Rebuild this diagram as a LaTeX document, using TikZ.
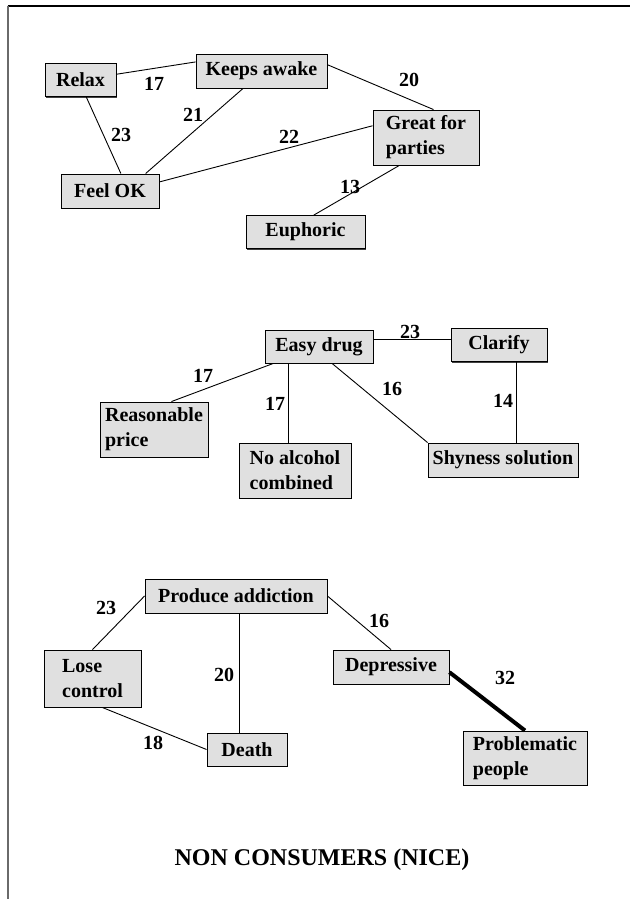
\documentclass[tikz,border=0pt]{standalone}
\usepackage{fontspec}
\setmainfont{Liberation Serif}
\usetikzlibrary{calc,shadows}
\definecolor{boxgray}{HTML}{E0E0E0}
\definecolor{framegray}{HTML}{6A6A6A}
\begin{document}
\begin{tikzpicture}[x=1pt,y=-1pt,
  box/.style={draw=black, line width=0.9pt, fill=boxgray, inner sep=0pt,
    font=\bfseries\fontsize{20}{25}\selectfont,
    drop shadow={shadow xshift=1.4pt, shadow yshift=-1.4pt, fill=black!75, opacity=1}},
  box2/.style={box, align=left},
  edge/.style={draw=black, line width=0.9pt},
  heavy/.style={draw=black, line width=4pt},
  lbl/.style={inner sep=0pt, font=\bfseries\fontsize{20}{24}\selectfont},
  ttl/.style={inner sep=0pt, font=\bfseries\fontsize{24}{28}\selectfont}]
\useasboundingbox (0,0) rectangle (630,899);

% page frame
\coordinate (ftl) at (7.5,6);
\coordinate (ftr) at (630,6);
\coordinate (fbl) at (7.5,899);
\draw[line width=1.5pt] (ftl) -- (ftr);
\draw[framegray, line width=2pt] (ftl) -- (fbl);

% ---------- first group ----------
\node[box, minimum width=71pt, minimum height=33pt]  (relax) at (80.5,80) {Relax};
\node[box, minimum width=131pt, minimum height=34pt] (keeps) at (261.5,71) {Keeps awake};
\node[box2, minimum width=106pt, minimum height=55pt] (great) at (426,137.5) {Great for\\parties};
\node[box, minimum width=98pt, minimum height=34pt]  (feel)  at (110,191) {Feel OK};
\node[box, minimum width=119pt, minimum height=33pt] (euph)  at (305.5,232) {Euphoric};

\draw[edge] ($(relax.north east)!0.33!(relax.south east)$) -- ($(keeps.north west)!0.24!(keeps.south west)$);
\draw[edge] ($(keeps.north east)!0.32!(keeps.south east)$) -- ($(great.north west)!0.57!(great.north east)$);
\draw[edge] ($(relax.south west)!0.58!(relax.south east)$) -- ($(feel.north west)!0.61!(feel.north east)$);
\draw[edge] ($(keeps.south west)!0.36!(keeps.south east)$) -- ($(feel.north west)!0.86!(feel.north east)$);
\draw[edge] ($(great.north west)!0.29!(great.south west)$) -- ($(feel.north east)!0.24!(feel.south east)$);
\draw[edge] ($(great.south west)!0.25!(great.south east)$) -- ($(euph.north west)!0.57!(euph.north east)$);

\node[lbl] (n17a) at (154,84)  {17};
\node[lbl] (n20a) at (409,80)  {20};
\node[lbl] (n23a) at (121,135) {23};
\node[lbl] (n21a) at (193,115) {21};
\node[lbl] (n22a) at (289,137) {22};
\node[lbl] (n13a) at (350,187) {13};

% ---------- second group ----------
\node[box, minimum width=108pt, minimum height=33pt] (easy)  at (319,346.5) {Easy drug};
\node[box, minimum width=96pt, minimum height=33pt]  (clar)  at (499,345) {Clarify};
\node[box2, minimum width=108pt, minimum height=55pt] (price) at (154,429.5) {Reasonable\\price};
\node[box2, minimum width=112pt, minimum height=55pt] (noalc) at (295,470.5) {No alcohol\\combined};
\node[box, minimum width=150pt, minimum height=34pt] (shy)   at (503,460) {Shyness solution};

\coordinate (ec) at ($(easy.north east)!0.3!(easy.south east)$);
\draw[edge] (ec) -- (clar.west |- ec);
\draw[edge] ($(easy.south west)!0.08!(easy.south east)$) -- ($(price.north west)!0.66!(price.north east)$);
\coordinate (en) at ($(easy.south west)!0.22!(easy.south east)$);
\draw[edge] (en) -- (en |- noalc.north);
\draw[edge] ($(easy.south west)!0.62!(easy.south east)$) -- (shy.north west);
\coordinate (cs) at ($(clar.south west)!0.68!(clar.south east)$);
\draw[edge] (cs) -- (cs |- shy.north);

\node[lbl] (n23b) at (410,332) {23};
\node[lbl] (n17b) at (203,376) {17};
\node[lbl] (n17c) at (275,404) {17};
\node[lbl] (n16b) at (392,389) {16};
\node[lbl] (n14b) at (503,401) {14};

% ---------- third group ----------
\node[box, minimum width=182pt, minimum height=34pt] (prod)  at (236,596) {Produce addiction};
\node[box2, minimum width=97pt, minimum height=57pt]  (lose)  at (92.5,678.5) {Lose\\control};
\node[box, minimum width=80pt, minimum height=33pt]  (death) at (247,749.5) {Death};
\node[box, minimum width=116pt, minimum height=34pt] (dep)   at (391,667) {Depressive};
\node[box2, minimum width=124pt, minimum height=54pt] (prob)  at (525,758) {Problematic\\people};

\draw[edge] (prod.west) -- (lose.north);
\coordinate (pd) at ($(prod.south west)!0.52!(prod.south east)$);
\draw[edge] (pd) -- (pd |- death.north);
\draw[edge] (prod.east) -- (dep.north);
\draw[edge] ($(lose.south west)!0.6!(lose.south east)$) -- (death.west);
\draw[heavy] ($(dep.north east)!0.65!(dep.south east)$) -- (prob.north);

\node[lbl] (n23c) at (106,608) {23};
\node[lbl] (n20c) at (224,675) {20};
\node[lbl] (n16c) at (379,621) {16};
\node[lbl] (n18c) at (153,743) {18};
\node[lbl] (n32c) at (505,678) {32};

% caption
\node[ttl] (title) at (322,860) {NON CONSUMERS (NICE)};
\end{tikzpicture}
\end{document}
